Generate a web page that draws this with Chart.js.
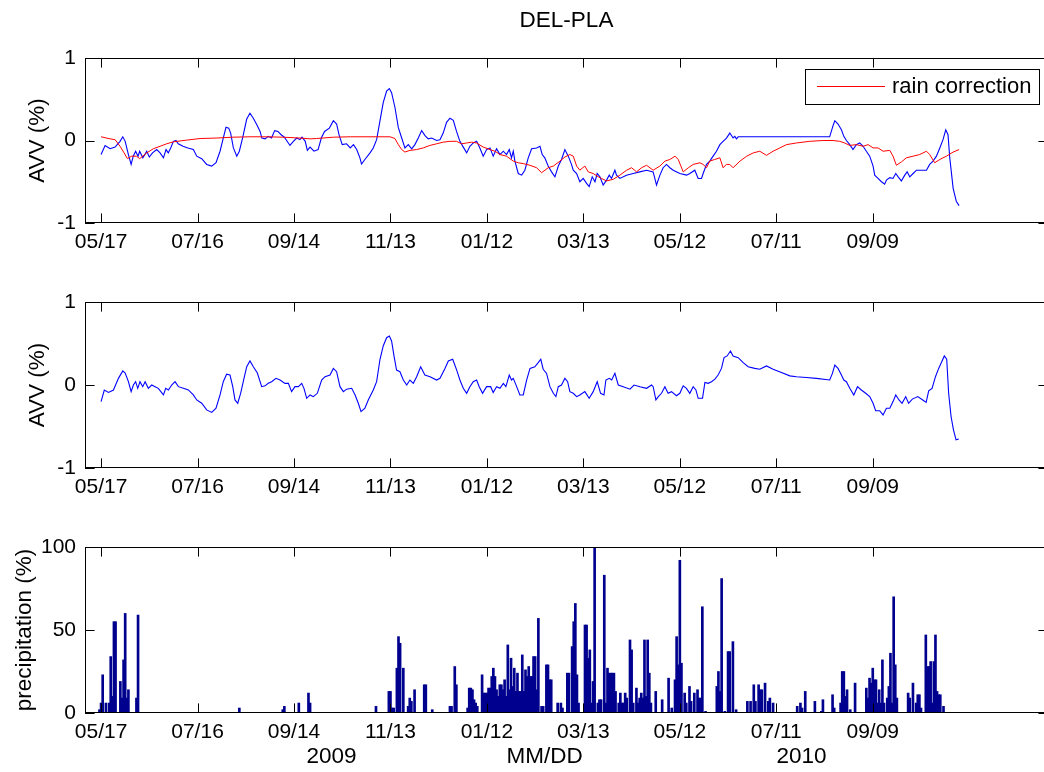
<!DOCTYPE html>
<html><head><meta charset="utf-8">
<script src="https://cdn.jsdelivr.net/npm/chart.js@4/dist/chart.umd.min.js"></script>
<style>
html,body{margin:0;padding:0;background:#fff;overflow:hidden;width:1044px;height:772px;}
canvas{position:absolute;left:0;}
</style></head><body>
<canvas id="c1" width="1060" height="262" style="top:0px"></canvas>
<canvas id="c2" width="1060" height="250" style="top:262px"></canvas>
<canvas id="c3" width="1060" height="260" style="top:512px"></canvas>
<script>
// ---------- data (day index counted from 05/17/2009) ----------
const tickDays = [0, 60, 120, 180, 240, 300, 360, 420, 480];
const tickLabels = ['05/17','07/16','09/14','11/13','01/12','03/13','05/12','07/11','09/09'];
const avvTicks = [-1, 0, 1];
const rainTicks = [0, 50, 100];

// raw AVV (%) [day, value]
const avvRaw = [[0,-0.17],[2.5,-0.06],[5.6,-0.10],[8.7,-0.08],[11.8,-0.01],[13.5,0.045],[15,-0.01],[17,-0.17],[18.7,-0.29],[20,-0.19],[21.5,-0.13],[23,-0.19],[24,-0.13],[26,-0.21],[28.4,-0.13],[30,-0.2],[32,-0.15],[34.6,-0.11],[36.7,-0.15],[38.8,-0.21],[40.4,-0.11],[41.8,-0.15],[43.3,-0.09],[45,-0.01],[46.6,0],[48,-0.04],[51,-0.07],[54,-0.09],[57.4,-0.11],[59.5,-0.19],[62.6,-0.22],[65.7,-0.29],[68.8,-0.31],[71.5,-0.27],[74,-0.13],[76,0.03],[77.7,0.16],[79.4,0.15],[80.6,0.09],[82.3,-0.09],[84.4,-0.19],[86,-0.13],[88,0.03],[90.6,0.26],[92.6,0.33],[94.7,0.27],[97.2,0.18],[98.9,0.11],[100,0.03],[102,0.02],[104,0.05],[106,0.03],[108,0.12],[110,0.11],[112,0.07],[114,0.04],[117.5,-0.06],[119.6,-0.01],[121.7,0.03],[123.7,0.01],[125,0.04],[127,-0.01],[128.3,-0.12],[130,-0.08],[132.4,-0.13],[135,-0.11],[137,0.03],[139,0.11],[142,0.15],[144.5,0.24],[146.5,0.2],[148,0.07],[150,-0.05],[152.7,-0.04],[155,-0.09],[157,-0.05],[159,-0.11],[161,-0.21],[162,-0.286],[164.1,-0.23],[167.3,-0.15],[169.3,-0.09],[171.4,0.01],[173.5,0.24],[175.5,0.46],[177.6,0.60],[179.3,0.63],[180.7,0.58],[182.8,0.40],[184.9,0.155],[187,0.03],[189,-0.09],[191.1,-0.05],[193.2,-0.10],[195.2,-0.05],[197.3,0.03],[199.4,0.12],[201.5,0.06],[203.5,0.02],[205.6,0.03],[208.7,0],[210.8,0.01],[212.8,0.09],[214.9,0.22],[217,0.27],[219.1,0.245],[221.1,0.11],[223.2,-0.01],[225.3,-0.08],[227.4,-0.15],[229.4,-0.07],[231.5,-0.03],[233.6,-0.01],[235.6,-0.09],[237.7,-0.19],[239.8,-0.11],[241.9,-0.09],[243.9,-0.19],[246,-0.10],[248.1,-0.17],[250.2,-0.13],[252.2,-0.17],[253.9,-0.11],[255.3,-0.21],[256.4,-0.13],[257.4,-0.25],[259.5,-0.40],[261.6,-0.42],[263.6,-0.36],[265.7,-0.21],[267.8,-0.10],[270.9,-0.09],[273,-0.07],[274.4,-0.17],[276,-0.21],[278.1,-0.31],[280.2,-0.38],[282.3,-0.44],[284.4,-0.31],[286.4,-0.23],[288.5,-0.11],[290.6,-0.19],[292.6,-0.29],[293.7,-0.36],[295.8,-0.40],[297.8,-0.50],[299.9,-0.46],[302,-0.52],[303.6,-0.56],[305.5,-0.44],[307.2,-0.50],[308.6,-0.40],[310.3,-0.44],[312.3,-0.54],[314.4,-0.48],[316.1,-0.42],[317.5,-0.46],[319.6,-0.36],[320.6,-0.42],[322.7,-0.46],[326.8,-0.42],[331,-0.40],[335.1,-0.38],[339.3,-0.36],[343.4,-0.38],[345.5,-0.54],[347.6,-0.42],[349.6,-0.33],[351.7,-0.29],[353.8,-0.33],[355.9,-0.36],[360,-0.40],[364.2,-0.42],[366.2,-0.40],[369.3,-0.36],[371.4,-0.46],[373.5,-0.46],[374.5,-0.40],[376.6,-0.29],[378.6,-0.25],[380.7,-0.19],[382.8,-0.13],[384.9,-0.05],[386.9,-0.01],[389,0.03],[391.1,0.09],[393.1,0.03],[394.2,0.05],[395.2,0.02],[396.3,0.045],[453.2,0.045],[455.3,0.18],[456.4,0.24],[458.4,0.20],[460.5,0.13],[462,0.05],[463.6,0],[465.7,-0.05],[467.7,-0.11],[469.8,-0.05],[471.9,-0.03],[474,-0.07],[476,-0.13],[478.1,-0.19],[480.2,-0.31],[481.2,-0.42],[483.3,-0.46],[485.4,-0.50],[487.4,-0.53],[488.5,-0.48],[490.6,-0.45],[492.6,-0.46],[494.3,-0.40],[495.8,-0.44],[497.8,-0.49],[499.9,-0.42],[501.4,-0.38],[503,-0.44],[505.1,-0.40],[507.2,-0.36],[513.4,-0.36],[515.4,-0.29],[517.5,-0.25],[519.6,-0.19],[521.7,-0.09],[523.7,0.01],[525.4,0.13],[526.8,0.07],[527.9,-0.21],[530,-0.58],[532,-0.74],[533.7,-0.79]];

// rain correction (%) [day, value]
const rainCorr = [[0,0.045],[5.6,0.02],[8.7,0.01],[11.8,-0.07],[14.3,-0.15],[16.4,-0.22],[19,-0.19],[22,-0.19],[24,-0.22],[28.4,-0.15],[32.5,-0.10],[36.7,-0.07],[40.8,-0.04],[45,-0.016],[53,0.004],[61.6,0.024],[72,0.03],[82,0.04],[92.6,0.045],[103,0.045],[113,0.04],[123.7,0.03],[130,0.02],[134,0.024],[144.5,0.04],[155,0.045],[179.7,0.045],[182.8,0.024],[184.9,-0.05],[187,-0.11],[189,-0.14],[192.1,-0.12],[196.2,-0.11],[200.4,-0.09],[204.5,-0.06],[208.7,-0.04],[212.8,-0.02],[217,-0.01],[221.1,-0.01],[224.2,-0.04],[227.4,-0.03],[230.5,-0.02],[233.6,-0.03],[237.7,-0.08],[241.9,-0.11],[245,-0.13],[248.1,-0.17],[252.2,-0.19],[256.4,-0.25],[259.5,-0.27],[262.6,-0.28],[266.7,-0.30],[270.9,-0.33],[274,-0.39],[276.1,-0.36],[278.1,-0.33],[281.3,-0.31],[285.4,-0.25],[288.5,-0.20],[291.6,-0.17],[293.7,-0.19],[295.8,-0.31],[297.8,-0.36],[300.9,-0.31],[303,-0.38],[306.1,-0.40],[309.3,-0.44],[311.3,-0.46],[314.4,-0.49],[318.6,-0.47],[322.7,-0.42],[326.9,-0.36],[330,-0.33],[333.1,-0.38],[336.2,-0.33],[339.3,-0.30],[343.4,-0.36],[347.6,-0.31],[350.7,-0.25],[353.8,-0.23],[357,-0.19],[359,-0.23],[362.1,-0.38],[365.3,-0.33],[368.3,-0.29],[372.5,-0.27],[374.5,-0.29],[376.6,-0.33],[378.6,-0.25],[381.7,-0.23],[384.9,-0.21],[386.9,-0.33],[389,-0.29],[391.1,-0.29],[393.1,-0.33],[397.4,-0.25],[401.6,-0.19],[405.7,-0.15],[409.7,-0.13],[413.9,-0.18],[418,-0.13],[422.2,-0.09],[426.3,-0.05],[432.5,-0.03],[440.8,-0.01],[449.1,0],[455.3,0],[459.4,-0.01],[462.5,-0.03],[465.7,-0.06],[469.8,-0.05],[474,-0.07],[477.1,-0.05],[480.2,-0.09],[483.3,-0.09],[486.4,-0.13],[490.6,-0.12],[492.6,-0.19],[494.7,-0.30],[497.8,-0.26],[500.9,-0.21],[505.1,-0.19],[509.2,-0.17],[513.4,-0.13],[515.4,-0.17],[518.5,-0.27],[521.7,-0.23],[525.8,-0.19],[530,-0.14],[533.7,-0.11]];

// corrected AVV (%) [day, value]
const avvCorrected = [[0,-0.20],[2,-0.06],[4.6,-0.09],[7.7,-0.06],[10.8,0.08],[13.5,0.17],[15,0.145],[17,0.04],[18.7,-0.08],[20.1,0],[21.5,0.04],[22.8,-0.04],[24.2,0.04],[25.9,-0.02],[27.4,0.04],[29.4,-0.04],[31.5,0],[33.6,-0.02],[35.6,-0.04],[38.8,-0.12],[40.2,-0.04],[41.9,-0.06],[43.9,0],[46,0.04],[48.1,-0.02],[51.2,-0.04],[54.3,-0.06],[57.4,-0.12],[59.5,-0.18],[62.6,-0.22],[65.7,-0.30],[68.8,-0.33],[71.5,-0.28],[74,-0.12],[76,0.04],[78.1,0.13],[80.2,0.12],[81.9,-0.02],[83.3,-0.18],[85,-0.22],[86.8,-0.10],[88.9,0.08],[90.6,0.22],[92.6,0.29],[94.7,0.22],[97.2,0.145],[99.9,-0.02],[102,-0.01],[104,0.02],[106.1,0.04],[108.8,0.08],[111.3,0.06],[114.4,0.02],[116.5,0.02],[118.5,-0.08],[120.6,-0.02],[122.7,-0.02],[124.8,0.02],[126.2,-0.04],[127.9,-0.16],[130,-0.12],[132,-0.14],[134.5,-0.10],[137.2,0.06],[139.3,0.10],[142.4,0.12],[144.5,0.20],[146.5,0.16],[148.6,-0.02],[150.7,-0.08],[152.7,-0.05],[155.9,-0.04],[158,-0.12],[160,-0.22],[161.7,-0.32],[164.1,-0.28],[166.2,-0.18],[169.3,-0.06],[171.4,0.04],[173.5,0.31],[175.5,0.47],[177.6,0.57],[179.3,0.59],[180.7,0.53],[182.2,0.35],[183.8,0.18],[185.9,0.16],[188,0.06],[190.1,0],[192.1,0.06],[194.2,0.02],[196.3,0.10],[198.8,0.22],[201.4,0.12],[204.6,0.10],[208.7,0.06],[210.8,0.08],[213.9,0.20],[216,0.29],[218.7,0.31],[221.2,0.18],[223.2,0.06],[225.3,-0.04],[227.4,-0.10],[229.4,-0.02],[231.5,0.04],[233.6,0.06],[235.2,-0.02],[237.3,-0.10],[239.8,-0.02],[242.3,-0.02],[243.9,-0.09],[246,-0.02],[248.1,-0.04],[250.2,0.02],[251.8,-0.02],[253.9,0.12],[255.3,0.06],[256.4,0.08],[258.5,-0.02],[260.5,-0.12],[262.6,-0.12],[264.7,0.06],[266.8,0.20],[269.8,0.22],[271.9,0.27],[273.5,0.31],[275,0.19],[277.1,0.14],[279.2,-0.02],[281.3,-0.10],[282.9,-0.14],[284.4,-0.02],[286.4,0],[288.5,0.08],[290.2,0.04],[291.6,-0.08],[293.7,-0.10],[295.8,-0.14],[297.8,-0.12],[300.9,-0.08],[303.6,-0.16],[306.1,-0.08],[308.6,0.04],[310.7,-0.10],[312.8,-0.12],[314,0.06],[316.1,0.08],[317.6,0.06],[319.6,0.14],[321.7,0],[324.8,-0.02],[329,-0.05],[331.5,0],[335.2,-0.02],[339.3,-0.04],[342.4,0],[343.4,-0.02],[345.1,-0.18],[346.6,-0.14],[348.6,-0.10],[350.7,-0.02],[352.7,-0.10],[354.8,-0.08],[357.9,-0.13],[360,-0.10],[362.1,-0.01],[364.1,-0.04],[366.2,-0.10],[368.3,-0.02],[370,-0.06],[371.4,-0.16],[374.1,-0.16],[375.6,0.03],[377.6,0.02],[379.7,0.04],[381.8,0.07],[383.8,0.12],[385.9,0.20],[387.5,0.33],[389.4,0.35],[391.5,0.41],[393.1,0.35],[396.3,0.33],[399.4,0.27],[402.5,0.22],[406.6,0.20],[409.7,0.19],[413.9,0.23],[418,0.19],[423.2,0.15],[428.4,0.11],[432.5,0.10],[438.7,0.09],[444.9,0.08],[453.2,0.06],[454.9,0.14],[456.4,0.24],[458.4,0.20],[460.5,0.12],[462,0.06],[463.6,0.04],[465.7,-0.04],[468.2,-0.12],[470.5,-0.02],[472.9,-0.06],[475.6,-0.10],[478.1,-0.14],[480.2,-0.22],[481.8,-0.31],[484.3,-0.31],[486.4,-0.36],[488.5,-0.28],[490.6,-0.28],[492.6,-0.20],[494.3,-0.12],[496.3,-0.18],[498.2,-0.22],[500.5,-0.14],[502.3,-0.22],[504.6,-0.17],[508,-0.14],[511.1,-0.18],[513.2,-0.21],[514.8,-0.07],[516.9,-0.04],[519,0.10],[521,0.20],[522.7,0.27],[524.5,0.35],[526,0.31],[527.2,-0.10],[528.7,-0.38],[530.2,-0.54],[531.8,-0.66],[533.5,-0.65]];

// precipitation (%) [day, value]
const precipitation = [[-1,2],[0,6],[1,23],[3,6],[5,6],[6,34],[7,10],[8,55],[9,55],[12,19],[13,9],[14,32],[15,60],[16,9],[17,14],[22,9],[23,59],[86,3],[113,2],[114,4],[123,6],[129,12],[130,6],[171,4],[179,13],[180,13],[181,3],[182,3],[184,27],[185,46],[186,42],[188,27],[191,4],[192,9],[193,7],[195,14],[201,17],[202,17],[206,2],[217,4],[218,4],[220,28],[221,17],[228,3],[229,15],[230,15],[231,14],[232,8],[233,6],[234,4],[237,23],[238,12],[239,12],[240,12],[241,15],[242,15],[243,22],[244,27],[245,22],[246,14],[247,10],[248,17],[249,17],[250,14],[251,20],[252,10],[253,41],[254,14],[255,33],[256,16],[257,27],[258,13],[259,24],[260,13],[261,13],[262,35],[263,13],[264,26],[265,22],[266,28],[267,22],[268,22],[269,34],[270,34],[271,14],[272,57],[274,4],[275,4],[277,29],[278,29],[279,20],[280,20],[284,6],[286,6],[287,3],[290,24],[291,24],[293,40],[294,55],[295,66],[296,23],[297,6],[301,53],[302,53],[303,33],[304,38],[305,6],[306,19],[307,100],[309,6],[310,8],[311,8],[313,83],[314,6],[315,27],[316,24],[317,24],[318,24],[319,24],[320,13],[322,6],[323,12],[324,6],[325,6],[326,12],[327,9],[329,44],[330,38],[331,6],[333,15],[334,6],[335,9],[336,12],[337,9],[338,44],[339,10],[340,44],[341,24],[342,6],[345,13],[349,8],[353,21],[355,3],[357,20],[358,46],[359,29],[360,92],[361,30],[363,12],[364,6],[366,16],[367,7],[369,12],[371,14],[372,9],[373,9],[374,64],[376,1],[383,16],[384,25],[385,13],[386,81],[388,1],[390,37],[391,37],[393,43],[395,2],[402,7],[404,7],[406,17],[407,7],[409,17],[410,14],[411,14],[413,18],[415,7],[416,9],[418,6],[433,4],[435,6],[436,3],[438,13],[444,7],[448,1],[449,8],[455,11],[456,3],[460,6],[461,25],[462,25],[463,10],[464,14],[466,2],[469,18],[476,15],[477,9],[478,21],[479,18],[480,27],[481,20],[482,20],[483,6],[484,14],[485,6],[486,32],[487,6],[489,9],[490,16],[491,36],[492,6],[493,70],[494,29],[495,9],[502,12],[503,9],[505,18],[507,6],[508,11],[509,11],[510,3],[513,47],[514,28],[515,28],[516,31],[517,6],[518,31],[519,47],[520,13],[521,11],[522,11],[524,4]];

// ---------- chart setup ----------
const FONT = "'Liberation Sans', Arial, Helvetica, sans-serif";
const FS = 21;       // tick labels
const FS_LABEL = 22.5; // title / axis labels
const FS_LEGEND = 22;
const X_MIN = -10, X_MAX = 589;
const PLOT_LEFT = 85, CANVAS_W = 1060, PLOT_RIGHT = 1048;
const toXY = arr => arr.map(p => ({x: p[0], y: p[1]}));

const matlabBox = {
  id: 'matlabBox',
  afterDraw(chart) {
    const {ctx, chartArea: {left, right, top, bottom}, scales: {x, y}} = chart;
    const tl = 9.6;
    ctx.save();
    ctx.strokeStyle = '#000';
    ctx.lineWidth = 1;
    ctx.strokeRect(left + 0.5, top + 0.5, right - left - 1, bottom - top - 1);
    ctx.beginPath();
    x.ticks.forEach(t => {
      const px = Math.round(x.getPixelForValue(t.value)) + 0.5;
      ctx.moveTo(px, bottom); ctx.lineTo(px, bottom - tl);
      ctx.moveTo(px, top); ctx.lineTo(px, top + tl);
    });
    y.ticks.forEach(t => {
      const py = Math.round(y.getPixelForValue(t.value)) + 0.5;
      ctx.moveTo(left, py); ctx.lineTo(left + tl, py);
      ctx.moveTo(right, py); ctx.lineTo(right - tl, py);
    });
    ctx.stroke();
    ctx.restore();
  }
};

const insetLegend = {
  id: 'insetLegend',
  afterDraw(chart, args, opts) {
    if (!opts || !opts.display) return;
    const ds = chart.data.datasets[opts.datasetIndex];
    const {ctx, chartArea: {right, top}} = chart;
    const w = 234, h = 35;
    const x0 = right - 9 - w, y0 = top + 10.5;
    ctx.save();
    ctx.fillStyle = '#fff';
    ctx.fillRect(x0, y0, w, h);
    ctx.strokeStyle = '#000';
    ctx.lineWidth = 1;
    ctx.strokeRect(Math.round(x0) + 0.5, Math.round(y0) + 0.5, w, h);
    const cy = Math.round(y0 + h / 2) + 0.5;
    ctx.strokeStyle = ds.borderColor;
    ctx.beginPath(); ctx.moveTo(x0 + 12, cy); ctx.lineTo(x0 + 80, cy); ctx.stroke();
    ctx.fillStyle = '#000';
    ctx.font = FS_LEGEND + 'px ' + FONT;
    ctx.textBaseline = 'middle';
    ctx.textAlign = 'left';
    ctx.fillText(ds.label, x0 + 87, y0 + h / 2 + 1);
    ctx.restore();
  }
};

function xAxis(height, titleText) {
  return {
    type: 'linear', min: X_MIN, max: X_MAX, offset: false,
    grid: {display: false, drawTicks: false}, border: {display: false},
    afterBuildTicks: s => { s.ticks = tickDays.map(v => ({value: v})); },
    ticks: {autoSkip: false, maxRotation: 0, minRotation: 0, padding: 7, color: '#000',
      font: {family: FONT, size: FS}, callback: (v, i) => tickLabels[i]},
    title: titleText ? {display: true, text: titleText, color: '#000',
      font: {family: FONT, size: FS_LABEL}, padding: {top: 0, bottom: 1.5}} : {display: false},
    afterFit: s => { s.height = height; s.paddingLeft = 0; s.paddingRight = 0; }
  };
}
function yAxis(min, max, ticks, label, titlePad) {
  return {
    min, max,
    grid: {display: false, drawTicks: false}, border: {display: false},
    afterBuildTicks: s => { s.ticks = ticks.map(v => ({value: v})); },
    ticks: {padding: 9, color: '#000', font: {family: FONT, size: FS}},
    title: {display: true, text: label, color: '#000', font: {family: FONT, size: FS_LABEL},
      padding: {top: titlePad, bottom: 0}},
    afterFit: s => { s.width = PLOT_LEFT; s.paddingTop = 0; s.paddingBottom = 0; }
  };
}
function baseOptions(padTop) {
  return {
    responsive: false, animation: false,
    layout: {padding: {top: padTop, left: 0, right: CANVAS_W - PLOT_RIGHT, bottom: 0}},
    plugins: {legend: {display: false}, tooltip: {enabled: false}, title: {display: false}},
    elements: {point: {radius: 0}, line: {tension: 0, borderWidth: 1}}
  };
}

// Panel 1: raw AVV with rain correction
const o1 = baseOptions(0);
o1.plugins.title = {display: true, text: 'DEL-PLA', fullSize: false, color: '#000',
  font: {family: FONT, size: FS_LABEL, weight: 'normal'}, padding: {top: 6.8, bottom: 24.2}};
o1.plugins.insetLegend = {display: true, datasetIndex: 0};
o1.scales = {x: xAxis(39), y: yAxis(-1, 1, avvTicks, 'AVV (%)', 24.5)};
new Chart(document.getElementById('c1'), {
  type: 'line',
  data: {datasets: [
    {label: 'rain correction', data: toXY(rainCorr), borderColor: '#ff0000', backgroundColor: '#ff0000', borderWidth: 1, pointRadius: 0, fill: false},
    {label: 'AVV', data: toXY(avvRaw), borderColor: '#0000ff', backgroundColor: '#0000ff', borderWidth: 1.1, pointRadius: 0, fill: false}
  ]},
  options: o1,
  plugins: [matlabBox, insetLegend]
});

// Panel 2: corrected AVV
const o2 = baseOptions(40);
o2.scales = {x: xAxis(44), y: yAxis(-1, 1, avvTicks, 'AVV (%)', 24.5)};
new Chart(document.getElementById('c2'), {
  type: 'line',
  data: {datasets: [
    {label: 'AVV corrected', data: toXY(avvCorrected), borderColor: '#0000ff', backgroundColor: '#0000ff', borderWidth: 1.1, pointRadius: 0, fill: false}
  ]},
  options: o2,
  plugins: [matlabBox]
});

// Panel 3: precipitation bars
const o3 = baseOptions(35);
o3.scales = {
  x: xAxis(59, '2009' + ' '.repeat(24) + 'MM/DD' + ' '.repeat(31) + '2010'),
  y: yAxis(0, 100, rainTicks, 'precipitation (%)', 11.5)
};
new Chart(document.getElementById('c3'), {
  type: 'bar',
  data: {datasets: [
    {label: 'precipitation', data: toXY(precipitation), backgroundColor: '#00008f', borderWidth: 0, barThickness: 2}
  ]},
  options: o3,
  plugins: [matlabBox]
});
</script>
</body></html>
